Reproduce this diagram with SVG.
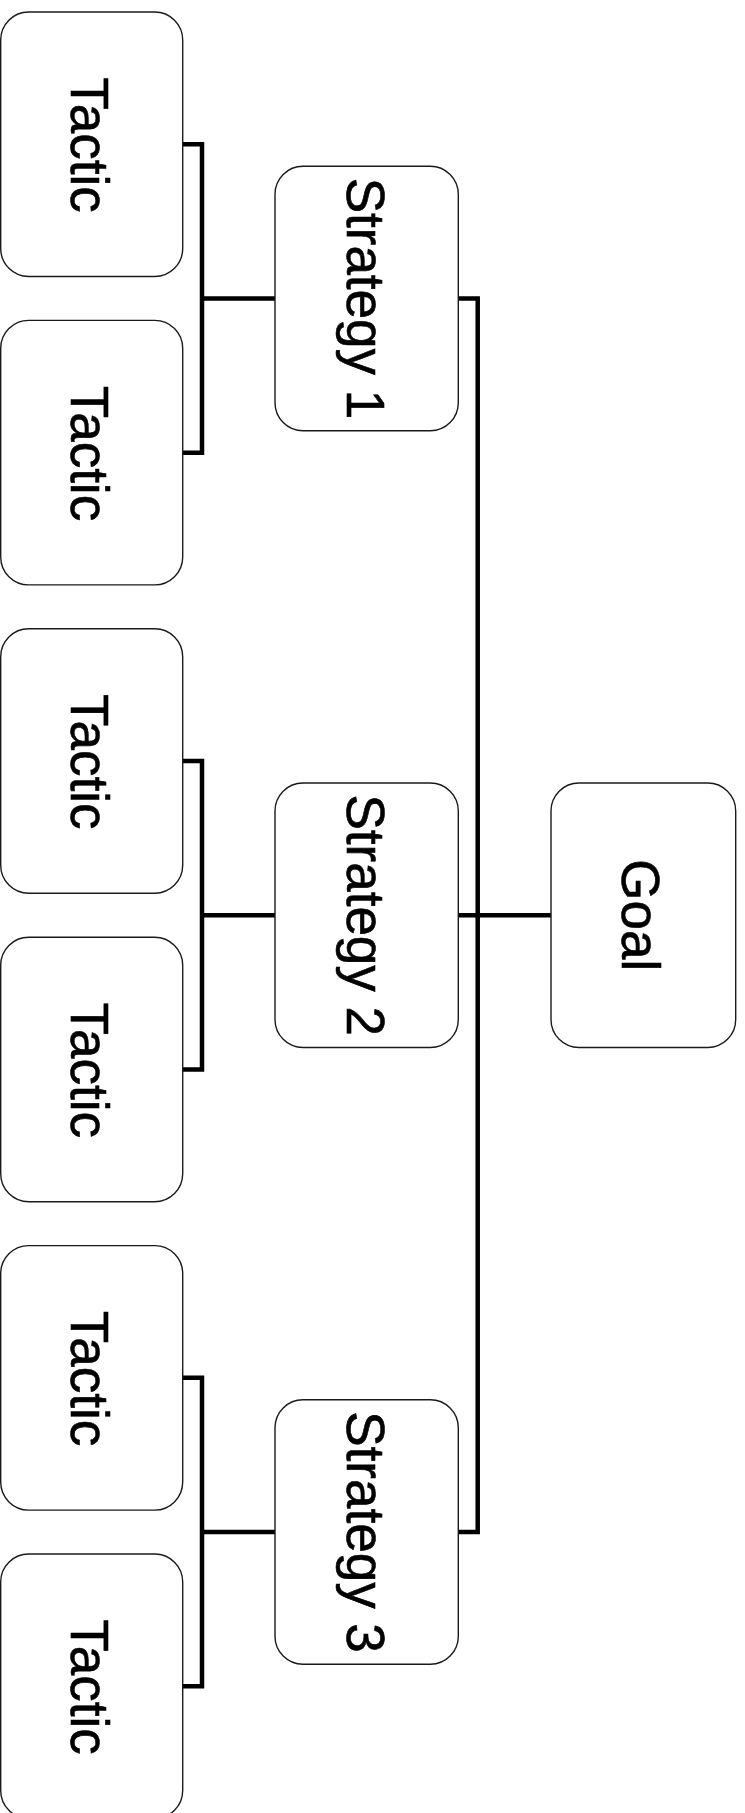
<svg xmlns="http://www.w3.org/2000/svg" width="745" height="1813" viewBox="0 0 745 1813">
<style>
.box{fill:#fff;stroke:#1a1a1a;stroke-width:1.4}
.lbl{font-family:"Liberation Sans",Arial,sans-serif;font-size:53px;fill:#000;stroke:#000;stroke-width:0.6;text-anchor:middle}
.con{fill:none;stroke:#000;stroke-width:4.5;stroke-linejoin:miter}
</style>
<rect width="745" height="1813" fill="#fff"/>
<g id="connectors">
<path class="con" d="M182.7 144.25 H202 V452.65 H182.7 M202 298.45 H275"/>
<path class="con" d="M182.7 761.05 H202 V1069.45 H182.7 M202 915.25 H275"/>
<path class="con" d="M182.7 1377.85 H202 V1686.25 H182.7 M202 1532.05 H275"/>
<path class="con" d="M458.3 298.45 H477.7 V1532.05 H458.3 M458.3 915.25 H551"/>
</g>
<g id="tactic1"><rect class="box" x="0.7" y="12" width="182" height="264.5" rx="28"/><text class="lbl" transform="translate(91.35 145) rotate(90)" y="20.5">Tactic</text></g>
<g id="tactic2"><rect class="box" x="0.7" y="320.4" width="182" height="264.5" rx="28"/><text class="lbl" transform="translate(91.35 453.4) rotate(90)" y="20.5">Tactic</text></g>
<g id="tactic3"><rect class="box" x="0.7" y="628.8" width="182" height="264.5" rx="28"/><text class="lbl" transform="translate(91.35 761.8) rotate(90)" y="20.5">Tactic</text></g>
<g id="tactic4"><rect class="box" x="0.7" y="937.2" width="182" height="264.5" rx="28"/><text class="lbl" transform="translate(91.35 1070.2) rotate(90)" y="20.5">Tactic</text></g>
<g id="tactic5"><rect class="box" x="0.7" y="1245.6" width="182" height="264.5" rx="28"/><text class="lbl" transform="translate(91.35 1378.6) rotate(90)" y="20.5">Tactic</text></g>
<g id="tactic6"><rect class="box" x="0.7" y="1554" width="182" height="264.5" rx="28"/><text class="lbl" transform="translate(91.35 1687) rotate(90)" y="20.5">Tactic</text></g>
<g id="strategy1"><rect class="box" x="275" y="166.2" width="183.3" height="264.5" rx="28"/><text class="lbl" transform="translate(366.65 298.45) rotate(90)" y="20">Strategy 1</text></g>
<g id="strategy2"><rect class="box" x="275" y="783" width="183.3" height="264.5" rx="28"/><text class="lbl" transform="translate(366.65 915.25) rotate(90)" y="20">Strategy 2</text></g>
<g id="strategy3"><rect class="box" x="275" y="1399.8" width="183.3" height="264.5" rx="28"/><text class="lbl" transform="translate(366.65 1532.05) rotate(90)" y="20">Strategy 3</text></g>
<g id="goal"><rect class="box" x="551" y="783" width="184.7" height="264.5" rx="28"/><text class="lbl" transform="translate(643.35 915.25) rotate(90)" y="21">Goal</text></g>
</svg>
